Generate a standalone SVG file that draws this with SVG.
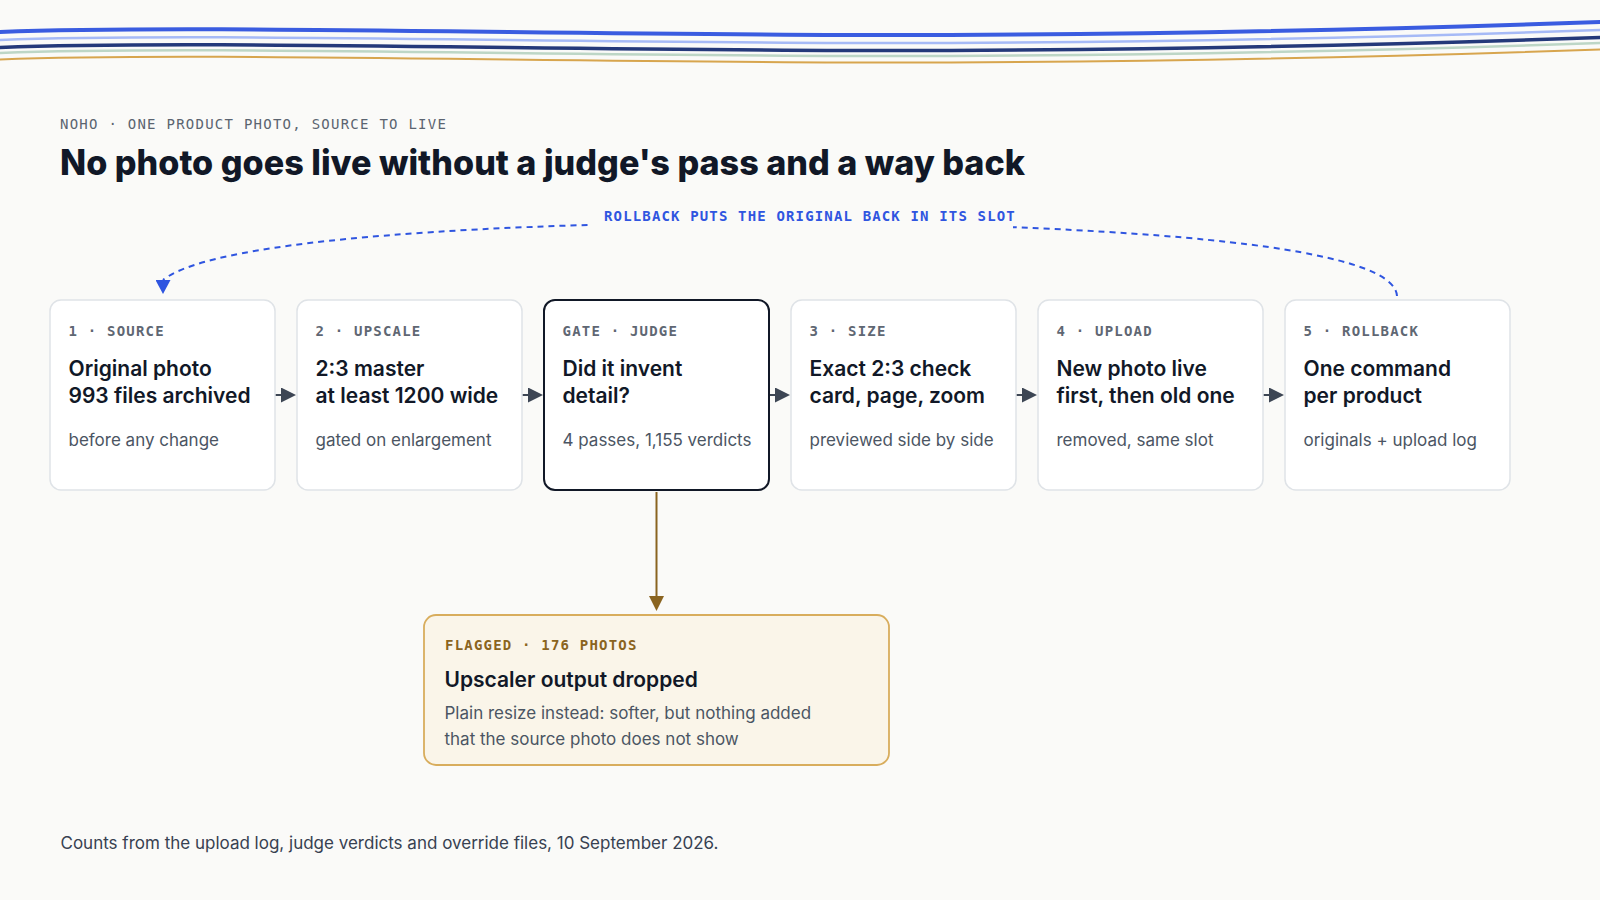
<svg xmlns="http://www.w3.org/2000/svg" width="1600" height="900" viewBox="0 0 1600 900">
  <style>
    .eyebrow { font-family: "DejaVu Sans Mono", "Liberation Mono", monospace; font-size: 14px; letter-spacing: 1.25px; fill: #5b6470; }
    .label { font-family: "DejaVu Sans Mono", "Liberation Mono", monospace; font-size: 14px; font-weight: 700; letter-spacing: 1.2px; fill: #5f6773; }
    .title { font-family: Inter, "Liberation Sans", sans-serif; font-size: 35px; font-weight: 800; fill: #111827; }
    .head { font-family: Inter, "Liberation Sans", sans-serif; font-size: 21px; font-weight: 600; fill: #111827; }
    .sub { font-family: Inter, "Liberation Sans", sans-serif; font-size: 17px; font-weight: 400; fill: #4b5563; }
    .foot { font-family: Inter, "Liberation Sans", sans-serif; font-size: 17px; font-weight: 400; fill: #374151; }
    .card { fill: #ffffff; stroke: #dfe3e7; stroke-width: 1.5; }
    .gate { fill: #ffffff; stroke: #111827; stroke-width: 2; }
    .step { stroke: #3d4654; stroke-width: 2; fill: none; }
    .wave { fill: none; stroke-linecap: round; }
  </style>
  <defs>
    <marker id="stepHead" viewBox="0 0 15 15" refX="0" refY="7.5" markerWidth="15" markerHeight="15" markerUnits="userSpaceOnUse" orient="auto">
      <path d="M0,0 L15,7.5 L0,15 Z" fill="#3d4654"/>
    </marker>
    <marker id="flagHead" viewBox="0 0 15 15" refX="0" refY="7.5" markerWidth="15" markerHeight="15" markerUnits="userSpaceOnUse" orient="auto">
      <path d="M0,0 L15,7.5 L0,15 Z" fill="#8a6420"/>
    </marker>
    <marker id="backHead" viewBox="0 0 14 15" refX="0" refY="7.5" markerWidth="14" markerHeight="15" markerUnits="userSpaceOnUse" orient="90">
      <path d="M0,0 L14,7.5 L0,15 Z" fill="#2f55e0"/>
    </marker>
    <path id="wavePath" d="M0,32 C200,24 600,36 950,35 C1200,34 1400,29 1600,22"/>
  </defs>

  <rect x="0" y="0" width="1600" height="900" fill="#fafaf8"/>

  <g id="waves">
    <use href="#wavePath" class="wave" stroke="#3a5ce0" stroke-width="4"/>
    <use href="#wavePath" class="wave" stroke="#a6baf6" stroke-width="2.5" transform="translate(0,8)"/>
    <use href="#wavePath" class="wave" stroke="#24397a" stroke-width="3.5" transform="translate(0,15.5)"/>
    <use href="#wavePath" class="wave" stroke="#bdd6c6" stroke-width="2.5" transform="translate(0,21)"/>
    <use href="#wavePath" class="wave" stroke="#d7a54e" stroke-width="2" transform="translate(0,27.5)"/>
  </g>

  <g id="header">
    <text class="eyebrow" x="60" y="129">NOHO · ONE PRODUCT PHOTO, SOURCE TO LIVE</text>
    <text class="title" x="60" y="175" textLength="965" lengthAdjust="spacingAndGlyphs">No photo goes live without a judge's pass and a way back</text>
  </g>

  <g id="connectors">
    <path class="step" d="M275,395 L281,395" marker-end="url(#stepHead)"/>
    <path class="step" d="M522,395 L528,395" marker-end="url(#stepHead)"/>
    <path class="step" d="M769,395 L775,395" marker-end="url(#stepHead)"/>
    <path class="step" d="M1016,395 L1022,395" marker-end="url(#stepHead)"/>
    <path class="step" d="M1263,395 L1269,395" marker-end="url(#stepHead)"/>
    <path d="M656.5,492 L656.5,596" stroke="#8a6420" stroke-width="2" fill="none" marker-end="url(#flagHead)"/>
    <path d="M1397,296 C1395,265 1300,228 800,222 C500,222 215,238 163,280" stroke="#2f55e0" stroke-width="2" stroke-dasharray="6 5" fill="none" marker-end="url(#backHead)"/>
    <rect x="590" y="208" width="423" height="26" fill="#fafaf8"/>
    <text x="604" y="221" font-family="DejaVu Sans Mono, Liberation Mono, monospace" font-size="14" font-weight="700" letter-spacing="1.15" fill="#2f55e0">ROLLBACK PUTS THE ORIGINAL BACK IN ITS SLOT</text>
  </g>

  <g id="node-source">
    <rect class="card" x="50" y="300" width="225" height="190" rx="11"/>
    <text class="label" x="68.5" y="336">1 · SOURCE</text>
    <text class="head" x="68.5" y="376">Original photo</text>
    <text class="head" x="68.5" y="403">993 files archived</text>
    <text class="sub" x="68.5" y="446">before any change</text>
  </g>

  <g id="node-upscale">
    <rect class="card" x="297" y="300" width="225" height="190" rx="11"/>
    <text class="label" x="315.5" y="336">2 · UPSCALE</text>
    <text class="head" x="315.5" y="376">2:3 master</text>
    <text class="head" x="315.5" y="403">at least 1200 wide</text>
    <text class="sub" x="315.5" y="446">gated on enlargement</text>
  </g>

  <g id="node-judge">
    <rect class="gate" x="544" y="300" width="225" height="190" rx="11"/>
    <text class="label" x="562.5" y="336">GATE · JUDGE</text>
    <text class="head" x="562.5" y="376">Did it invent</text>
    <text class="head" x="562.5" y="403">detail?</text>
    <text class="sub" x="562.5" y="446">4 passes, 1,155 verdicts</text>
  </g>

  <g id="node-size">
    <rect class="card" x="791" y="300" width="225" height="190" rx="11"/>
    <text class="label" x="809.5" y="336">3 · SIZE</text>
    <text class="head" x="809.5" y="376">Exact 2:3 check</text>
    <text class="head" x="809.5" y="403">card, page, zoom</text>
    <text class="sub" x="809.5" y="446">previewed side by side</text>
  </g>

  <g id="node-upload">
    <rect class="card" x="1038" y="300" width="225" height="190" rx="11"/>
    <text class="label" x="1056.5" y="336">4 · UPLOAD</text>
    <text class="head" x="1056.5" y="376">New photo live</text>
    <text class="head" x="1056.5" y="403">first, then old one</text>
    <text class="sub" x="1056.5" y="446">removed, same slot</text>
  </g>

  <g id="node-rollback">
    <rect class="card" x="1285" y="300" width="225" height="190" rx="11"/>
    <text class="label" x="1303.5" y="336">5 · ROLLBACK</text>
    <text class="head" x="1303.5" y="376">One command</text>
    <text class="head" x="1303.5" y="403">per product</text>
    <text class="sub" x="1303.5" y="446">originals + upload log</text>
  </g>

  <g id="node-flagged">
    <rect x="424" y="615" width="465" height="150" rx="12" fill="#faf5e9" stroke="#d8ad5d" stroke-width="1.8"/>
    <text x="445" y="650" font-family="DejaVu Sans Mono, Liberation Mono, monospace" font-size="14" font-weight="700" letter-spacing="1.2" fill="#8a6420">FLAGGED · 176 PHOTOS</text>
    <text class="head" x="444.5" y="687">Upscaler output dropped</text>
    <text class="sub" x="444.5" y="719">Plain resize instead: softer, but nothing added</text>
    <text class="sub" x="444.5" y="745">that the source photo does not show</text>
  </g>

  <g id="footer">
    <text class="foot" x="60.5" y="849">Counts from the upload log, judge verdicts and override files, 10 September 2026.</text>
  </g>
</svg>
